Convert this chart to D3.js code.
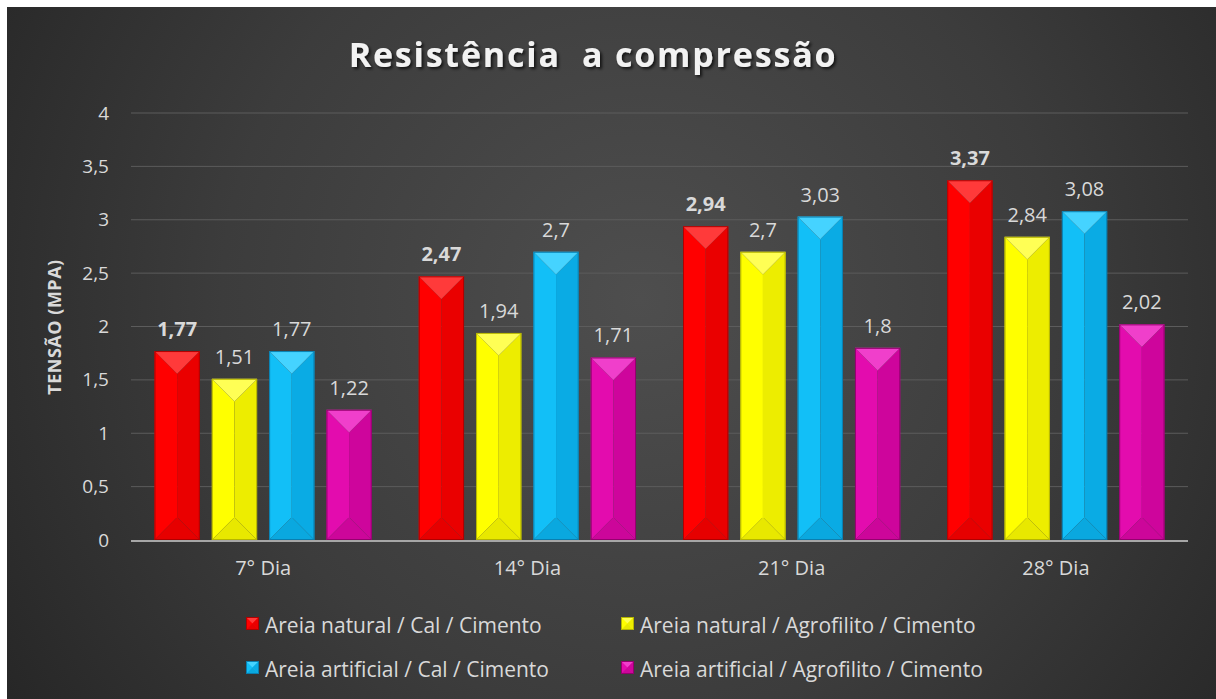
<!DOCTYPE html>
<html>
<head>
<meta charset="utf-8">
<script src="https://cdn.jsdelivr.net/npm/d3@7"></script>
<style>
  html, body { margin: 0; padding: 0; background: #fff; }
  svg { display: block; }
  text { font-family: "Open Sans", Lato, sans-serif; }
</style>
</head>
<body>
<div id="chart"></div>
<script>
// data
const categories = ["7° Dia", "14° Dia", "21° Dia", "28° Dia"];
const seriesNames = [
  "Areia natural / Cal / Cimento",
  "Areia natural / Agrofilito / Cimento",
  "Areia artificial / Cal / Cimento",
  "Areia artificial / Agrofilito / Cimento"
];
const naturalCal = [1.77, 2.47, 2.94, 3.37];
const naturalAgro = [1.51, 1.94, 2.7, 2.84];
const artificialCal = [1.77, 2.7, 3.03, 3.08];
const artificialAgro = [1.22, 1.71, 1.8, 2.02];
const yTicks = [0, 0.5, 1, 1.5, 2, 2.5, 3, 3.5, 4];

const seriesValues = [naturalCal, naturalAgro, artificialCal, artificialAgro];

// face colours per series: main, top, right, bottom, edge
const palette = [
  { main: "#ff0000", top: "#ff3a3a", right: "#ea0000", bottom: "#e60000", edge: "#b00000" },
  { main: "#ffff00", top: "#ffff55", right: "#eded00", bottom: "#e8e800", edge: "#b5b500" },
  { main: "#12bff7", top: "#45d3ff", right: "#0aabe4", bottom: "#0aa8df", edge: "#0a7fb0" },
  { main: "#e30cae", top: "#f03fcb", right: "#ce059c", bottom: "#cc069a", edge: "#95006f" }
];

const W = 1216, H = 699;
const svg = d3.select("#chart").append("svg")
  .attr("width", W)
  .attr("height", H);

const defs = svg.append("defs");
const bg = defs.append("radialGradient")
  .attr("id", "bg")
  .attr("gradientUnits", "userSpaceOnUse")
  .attr("cx", 640).attr("cy", 300).attr("r", 760);
bg.append("stop").attr("offset", "0%").attr("stop-color", "#4e4e4e");
bg.append("stop").attr("offset", "55%").attr("stop-color", "#3c3c3c");
bg.append("stop").attr("offset", "100%").attr("stop-color", "#262626");

const shadow = defs.append("filter").attr("id", "shadow")
  .attr("x", "-10%").attr("y", "-30%").attr("width", "120%").attr("height", "160%");
shadow.append("feDropShadow")
  .attr("dx", 2).attr("dy", 2).attr("stdDeviation", 1.5)
  .attr("flood-color", "#000").attr("flood-opacity", 0.7);

svg.append("rect")
  .attr("x", 7).attr("y", 7)
  .attr("width", W - 7).attr("height", H - 7)
  .attr("fill", "url(#bg)");

// scales
const x0 = d3.scaleBand()
  .domain(categories)
  .range([131, 1188])
  .padding(0);

const x1 = d3.scaleBand()
  .domain(d3.range(seriesNames.length))
  .range([0, x0.bandwidth()])
  .paddingInner(0.21)
  .paddingOuter(0.41);

const y = d3.scaleLinear()
  .domain([0, 4])
  .range([540, 113]);

const fmt = v => String(v).replace(".", ",");

// gridlines
svg.append("g")
  .selectAll("line")
  .data(yTicks.filter(d => d > 0))
  .join("line")
  .attr("x1", 131).attr("x2", 1188)
  .attr("y1", d => y(d)).attr("y2", d => y(d))
  .attr("stroke", "#5c5c5c")
  .attr("stroke-width", 1);

// y axis labels
const yAxis = svg.append("g")
  .attr("transform", "translate(131,0)")
  .call(d3.axisLeft(y).tickValues(yTicks).tickFormat(fmt).tickSize(0).tickPadding(22));
yAxis.select(".domain").remove();
yAxis.selectAll("text")
  .attr("fill", "#d9d9d9")
  .style("font-size", "19px")
  .style("font-family", "'Open Sans', Lato, sans-serif");

// y axis title
svg.append("text")
  .attr("transform", "translate(61,327) rotate(-90)")
  .attr("text-anchor", "middle")
  .attr("fill", "#d9d9d9")
  .style("font-size", "18px")
  .style("font-weight", "bold")
  .style("letter-spacing", "0.5px")
  .text("TENSÃO (MPA)");

// bars
const groups = svg.append("g")
  .selectAll("g")
  .data(categories)
  .join("g")
  .attr("transform", d => `translate(${x0(d)},0)`);

const barData = (c, ci) => seriesValues.map((vals, si) => ({ si, v: vals[ci] }));

groups.each(function (c, ci) {
  const g = d3.select(this);
  barData(c, ci).forEach(d => {
    const col = palette[d.si];
    const bx = x1(d.si), bw = x1.bandwidth();
    const top = y(d.v), bot = y(0);
    const cx = bx + bw / 2, bev = Math.min(bw / 2, (bot - top) / 2);
    const bar = g.append("g");
    // left face
    bar.append("polygon")
      .attr("points", [[bx, top], [cx, top + bev], [cx, bot - bev], [bx, bot]].join(" "))
      .attr("fill", col.main);
    // right face
    bar.append("polygon")
      .attr("points", [[bx + bw, top], [cx, top + bev], [cx, bot - bev], [bx + bw, bot]].join(" "))
      .attr("fill", col.right);
    // top bevel
    bar.append("polygon")
      .attr("points", [[bx, top], [bx + bw, top], [cx, top + bev]].join(" "))
      .attr("fill", col.top);
    // bottom bevel
    bar.append("polygon")
      .attr("points", [[bx, bot], [bx + bw, bot], [cx, bot - bev]].join(" "))
      .attr("fill", col.bottom);
    bar.append("rect")
      .attr("x", bx + 0.5).attr("y", top + 0.5)
      .attr("width", bw - 1).attr("height", bot - top - 1)
      .attr("fill", "none")
      .attr("stroke", col.edge)
      .attr("stroke-width", 1);
    // value label
    g.append("text")
      .attr("x", cx)
      .attr("y", top - 15)
      .attr("text-anchor", "middle")
      .attr("fill", "#d9d9d9")
      .style("font-size", "20px")
      .style("font-weight", d.si === 0 ? "bold" : "normal")
      .text(fmt(d.v));
  });
});

// x axis baseline
svg.append("line")
  .attr("x1", 131).attr("x2", 1188)
  .attr("y1", y(0) + 1).attr("y2", y(0) + 1)
  .attr("stroke", "#a6a6a6")
  .attr("stroke-width", 2);

// category labels
const xAxis = svg.append("g")
  .attr("transform", `translate(0,${y(0)})`)
  .call(d3.axisBottom(x0).tickSize(0).tickPadding(21));
xAxis.select(".domain").remove();
xAxis.selectAll("text")
  .attr("fill", "#d9d9d9")
  .style("font-size", "20px")
  .style("font-family", "'Open Sans', Lato, sans-serif");

// title
svg.append("text")
  .attr("x", 593)
  .attr("y", 67)
  .attr("text-anchor", "middle")
  .attr("fill", "#f2f2f2")
  .attr("filter", "url(#shadow)")
  .style("font-size", "34px")
  .style("font-weight", "bold")
  .style("letter-spacing", "1.8px")
  .style("white-space", "pre")
  .attr("xml:space", "preserve")
  .text("Resistência  a compressão");

// legend
const legendPos = [[246, 617], [621, 617], [246, 661], [621, 661]];
const legend = svg.append("g")
  .selectAll("g")
  .data(seriesNames)
  .join("g")
  .attr("transform", (d, i) => `translate(${legendPos[i][0]},${legendPos[i][1]})`);

legend.each(function (name, i) {
  const g = d3.select(this);
  const col = palette[i];
  const s = 13;
  g.append("rect").attr("width", s).attr("height", s).attr("fill", col.main);
  g.append("polygon").attr("points", [[0, 0], [s, 0], [s / 2, s / 2]].join(" ")).attr("fill", col.top);
  g.append("polygon").attr("points", [[s, 0], [s, s], [s / 2, s / 2]].join(" ")).attr("fill", col.right);
  g.append("polygon").attr("points", [[0, s], [s, s], [s / 2, s / 2]].join(" ")).attr("fill", col.bottom);
  g.append("rect").attr("x", 0.5).attr("y", 0.5).attr("width", s - 1).attr("height", s - 1)
    .attr("fill", "none").attr("stroke", col.edge);
  g.append("text")
    .attr("x", 19)
    .attr("y", 15.5)
    .attr("fill", "#d9d9d9")
    .style("font-size", "21px")
    .text(name);
});
</script>
</body>
</html>
